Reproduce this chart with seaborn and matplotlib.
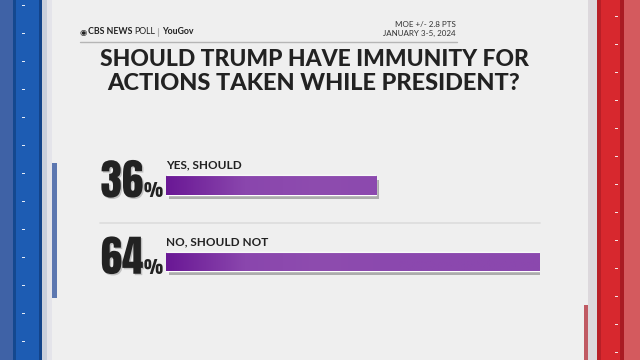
import numpy as np
import pandas as pd
import matplotlib
matplotlib.use("Agg")
import matplotlib.pyplot as plt
import matplotlib.patheffects as pe
from matplotlib.patches import Rectangle
from matplotlib.colors import LinearSegmentedColormap
import seaborn as sns

# dados
respostas = ["YES, SHOULD", "NO, SHOULD NOT"]
percentuais = [36, 64]
titulo = ["SHOULD TRUMP HAVE IMMUNITY FOR", "ACTIONS TAKEN WHILE PRESIDENT?"]
moe = "MOE +/- 2.8 PTS"
datas = "JANUARY 3-5, 2024"

df = pd.DataFrame({"resposta": respostas, "pct": percentuais})

sns.set_theme(style="white")
plt.rcParams["font.family"] = ["Lato", "DejaVu Sans"]
fonte_num = ["Anton", "DejaVu Sans"]

W, H = 640, 360
fig = plt.figure(figsize=(6.4, 3.6), dpi=100)
fig.patch.set_facecolor("#efefef")
rend = fig.canvas.get_renderer()

def faixa(x0, x1, cor, y0=0, y1=H, z=0):
    fig.add_artist(Rectangle((x0 / W, 1 - y1 / H), (x1 - x0) / W, (y1 - y0) / H,
                             transform=fig.transFigure, color=cor, lw=0, zorder=z))

# moldura azul (esquerda)
faixa(0, 13, "#3f62a6")
faixa(13, 16, "#14488f")
faixa(16, 39, "#1d5cb3")
faixa(39, 42, "#12438a")
faixa(42, 47, "#c9cfdc")
faixa(47, 52, "#e4e4ea")
faixa(52, 57, "#5c77b0", 163, 298)
# moldura vermelha (direita)
faixa(588, 597, "#dcd8dc")
faixa(597, 601, "#b81f27")
faixa(601, 620, "#d7282e")
faixa(620, 624, "#a91a22")
faixa(624, 640, "#d45a5e")
faixa(584, 588, "#c05a63", 305, 360)
for yy in np.arange(5, 360, 28):
    faixa(22, 25, "#e6ecf6", yy, yy + 1.2, z=1)
for yy in np.arange(16, 360, 28):
    faixa(615, 618, "#f4e4e4", yy, yy + 1.2, z=1)

# cabeçalho, peça por peça
def pedaco(x, txt, **kw):
    t = fig.text(x / W, 1 - 32 / H, txt, va="center", color="#222222", **kw)
    return x + t.get_window_extent(rend).width

x = 80
x = pedaco(x, "◉", fontsize=6, family=["DejaVu Sans"]) + 0.5
x = pedaco(x, "CBS NEWS", fontsize=6.3, fontweight="bold") + 2
x = pedaco(x, "POLL", fontsize=6.3) + 3
fig.add_artist(plt.Line2D([x / W] * 2, [1 - 28 / H, 1 - 36 / H], color="#b0b0b0", lw=0.8))
x += 4
pedaco(x, "YouGov", fontsize=6.3, fontweight="bold")

fig.text(456 / W, 1 - 24.5 / H, moe, fontsize=5.8, color="#333333", ha="right", va="center")
fig.text(456 / W, 1 - 33.5 / H, datas, fontsize=5.8, color="#333333", ha="right", va="center")
fig.add_artist(plt.Line2D([80 / W, 457 / W], [1 - 41.5 / H] * 2, color="#b5b5b5", lw=1))

# título ajustado à largura
for linha, yc, larg in zip(titulo, [60, 84], [430, 414]):
    t = fig.text(314 / W, 1 - yc / H, linha, fontsize=15, fontweight=900,
                 color="#222222", ha="center", va="center")
    w = t.get_window_extent(rend).width
    t.set_fontsize(15 * larg / w)

# eixo das barras
ax = fig.add_axes([166 / W, 1 - 299.75 / H, 374 / W, 153 / H])
ax.set_facecolor("none")
sns.barplot(data=df, x="pct", y="resposta", orient="h", color="#8b48ae",
            width=0.25, ax=ax, saturation=1)
ax.set_xlim(0, 64)
ax.set_ylim(1.5, -0.5)
ax.axis("off")

cmap = LinearSegmentedColormap.from_list("roxo", ["#6a1895", "#8a46ad", "#8e4caf", "#8b48ae"])
for p in ax.patches:
    p.set_path_effects([pe.SimplePatchShadow(offset=(2, -3), shadow_rgbFace="#000000",
                                             alpha=0.28), pe.Normal()])
    x0, y0 = p.get_x(), p.get_y()
    w, h = p.get_width(), p.get_height()
    xs = np.linspace(x0, x0 + w, 200)
    grad = np.clip(xs / 40.0, 0, 1)[None, :]
    im = ax.imshow(grad, cmap=cmap, vmin=0, vmax=1, aspect="auto",
                   extent=(x0, x0 + w, y0 + h, y0), zorder=3)
    im.set_clip_path(p)
    # leve brilho na borda de cima
    ax.plot([x0, x0 + w], [y0, y0], color="#f8f8f8", lw=0.8, zorder=4)

ax.set_ylim(1.5, -0.5)
ax.set_xlim(0, 64)

for i, (r, v) in enumerate(zip(respostas, percentuais)):
    ax.text(0, i - 0.19, r, fontsize=8.5, fontweight="bold", color="#222222",
            ha="left", va="bottom")
    ax.text(-3.9, i + 0.16, str(v), fontsize=31, color="#222222",
            ha="right", va="baseline", family=fonte_num,
            path_effects=[pe.SimplePatchShadow(offset=(1, -1), alpha=0.2), pe.Normal()])
    ax.text(-3.8, i + 0.16, "%", fontsize=13, color="#222222",
            ha="left", va="baseline", family=fonte_num)

# linha separadora
ax.plot([-11.3, 64], [0.5, 0.5], color="#dcdcdc", lw=1.2, clip_on=False)

fig.savefig("out.png", dpi=100, facecolor=fig.get_facecolor())
